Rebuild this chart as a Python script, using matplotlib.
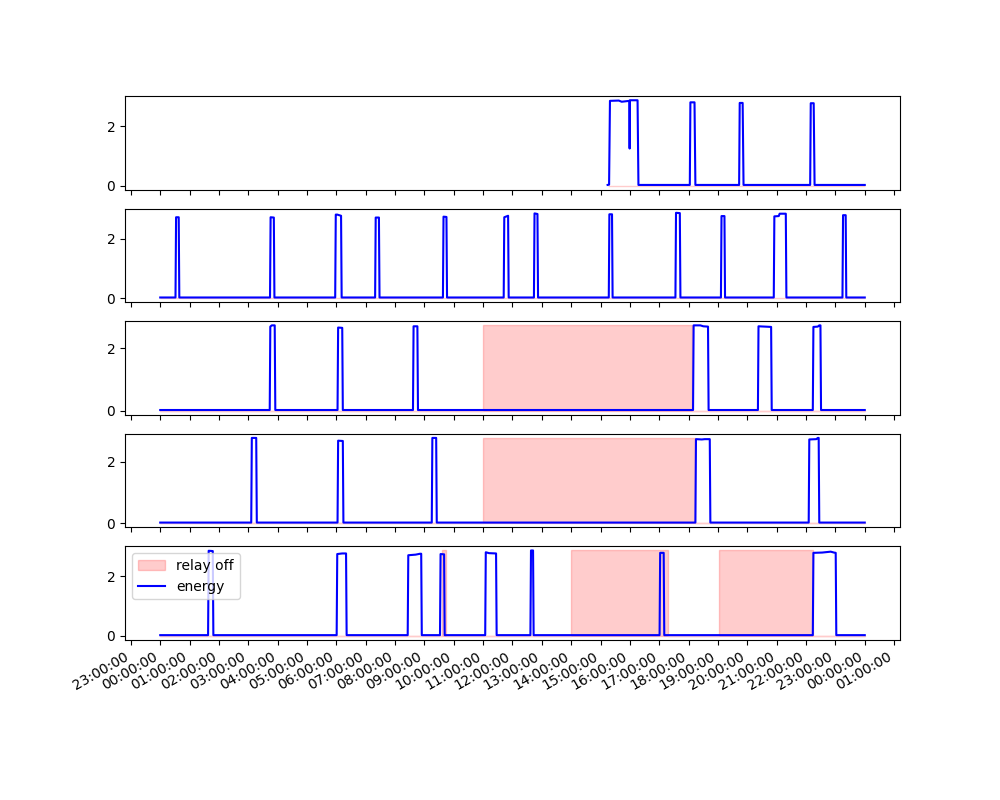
import matplotlib
matplotlib.use('Agg')
import matplotlib.pyplot as plt
import matplotlib.dates as mdates
import numpy as np
import pandas as pd

# ---- data (hours of day, energy values) ----
d1_hours = [15.24, 15.29, 15.32, 15.62, 15.72, 15.98, 15.99, 16.00, 16.26, 16.29,
            18.04, 18.06, 18.20, 18.23, 19.72, 19.74, 19.84, 19.87,
            22.14, 22.16, 22.26, 22.29, 24.0]
d1_energy = [0.02, 0.03, 2.86, 2.87, 2.83, 2.86, 1.25, 2.88, 2.88, 0.02,
             0.02, 2.81, 2.81, 0.02, 0.02, 2.79, 2.79, 0.02,
             0.02, 2.78, 2.78, 0.02, 0.02]
d1_relay_off = []

d2_hours = [0.0, 0.52, 0.54, 0.63, 0.65, 3.74, 3.76, 3.87, 3.89,
            5.96, 5.98, 6.03, 6.16, 6.18, 7.32, 7.34, 7.45, 7.47,
            9.63, 9.65, 9.75, 9.77, 11.70, 11.72, 11.85, 11.87,
            12.73, 12.75, 12.85, 12.87, 15.28, 15.30, 15.39, 15.41,
            17.55, 17.57, 17.70, 17.72, 19.10, 19.12, 19.22, 19.24,
            20.90, 20.92, 21.07, 21.10, 21.31, 21.33,
            23.24, 23.26, 23.35, 23.37, 24.0]
d2_energy = [0.02, 0.02, 2.73, 2.73, 0.02, 0.02, 2.73, 2.72, 0.02,
             0.02, 2.82, 2.82, 2.78, 0.02, 0.02, 2.72, 2.72, 0.02,
             0.02, 2.75, 2.74, 0.02, 0.02, 2.73, 2.78, 0.02,
             0.02, 2.86, 2.84, 0.02, 0.02, 2.83, 2.83, 0.02,
             0.02, 2.88, 2.87, 0.02, 0.02, 2.77, 2.77, 0.02,
             0.02, 2.76, 2.77, 2.85, 2.85, 0.02,
             0.02, 2.80, 2.80, 0.02, 0.02]
d2_relay_off = []

d3_hours = [0.0, 3.73, 3.75, 3.80, 3.90, 3.92, 6.04, 6.06, 6.20, 6.22,
            8.61, 8.63, 8.76, 8.78, 18.15, 18.17, 18.40, 18.50, 18.66, 18.68,
            20.36, 20.38, 20.60, 20.81, 20.83,
            22.23, 22.25, 22.40, 22.45, 22.49, 22.51, 24.0]
d3_energy = [0.02, 0.02, 2.70, 2.74, 2.74, 0.02, 0.02, 2.67, 2.66, 0.02,
             0.02, 2.71, 2.71, 0.02, 0.02, 2.74, 2.74, 2.71, 2.70, 0.02,
             0.02, 2.71, 2.70, 2.69, 0.02,
             0.02, 2.69, 2.70, 2.74, 2.74, 0.02, 0.02]
d3_relay_off = [(11.0, 18.13)]

d4_hours = [0.0, 3.10, 3.12, 3.27, 3.29, 6.04, 6.06, 6.22, 6.24,
            9.25, 9.27, 9.40, 9.42, 18.23, 18.25, 18.45, 18.55, 18.72, 18.74,
            22.09, 22.11, 22.35, 22.40, 22.43, 22.45, 24.0]
d4_energy = [0.02, 0.02, 2.78, 2.78, 0.02, 0.02, 2.69, 2.68, 0.02,
             0.02, 2.78, 2.78, 0.02, 0.02, 2.74, 2.73, 2.74, 2.74, 0.02,
             0.02, 2.73, 2.74, 2.78, 2.78, 0.02, 0.02]
d4_relay_off = [(11.0, 18.2)]

d5_hours = [0.0, 1.63, 1.65, 1.79, 1.81, 6.01, 6.03, 6.20, 6.33, 6.35,
            8.43, 8.45, 8.70, 8.85, 8.89, 8.91, 9.53, 9.55, 9.67, 9.69,
            11.07, 11.09, 11.20, 11.44, 11.46, 12.61, 12.63, 12.70, 12.72,
            17.01, 17.03, 17.15, 17.17,
            22.23, 22.25, 22.55, 22.84, 22.95, 23.01, 23.03, 24.0]
d5_energy = [0.02, 0.02, 2.85, 2.84, 0.02, 0.02, 2.74, 2.76, 2.76, 0.02,
             0.02, 2.70, 2.72, 2.75, 2.75, 0.02, 0.02, 2.74, 2.73, 0.02,
             0.02, 2.80, 2.77, 2.76, 0.02, 0.02, 2.86, 2.86, 0.02,
             0.02, 2.78, 2.78, 0.02,
             0.02, 2.78, 2.79, 2.82, 2.79, 2.78, 0.02, 0.02]
d5_relay_off = [(9.60, 9.74), (13.99, 17.28), (19.02, 22.23)]

days = [(d1_hours, d1_energy, d1_relay_off),
        (d2_hours, d2_energy, d2_relay_off),
        (d3_hours, d3_energy, d3_relay_off),
        (d4_hours, d4_energy, d4_relay_off),
        (d5_hours, d5_energy, d5_relay_off)]

base = pd.Timestamp('2021-03-01')


def to_dt(h):
    return base + pd.to_timedelta(np.asarray(h, dtype=float), unit='h')


fig, axes = plt.subplots(5, 1, sharex=True, figsize=(10, 8), dpi=100)
for ax, (hours, energy, offs) in zip(axes, days):
    rt = [hours[0]]
    rv = [0]
    for a, b in offs:
        rt += [a, a, b, b]
        rv += [0, 1, 1, 0]
    rt.append(hours[-1])
    rv.append(0)
    m = max(energy)
    ax.fill_between(to_dt(rt), 0, np.array(rv) * m, color='red', alpha=0.2,
                    label='relay off')
    ax.plot(to_dt(hours), energy, color='blue', label='energy')

axes[-1].legend(loc='upper left')
axes[-1].xaxis.set_major_locator(mdates.HourLocator())
axes[-1].xaxis.set_major_formatter(mdates.DateFormatter('%H:%M:%S'))
fig.autofmt_xdate()
fig.savefig('out.png')
